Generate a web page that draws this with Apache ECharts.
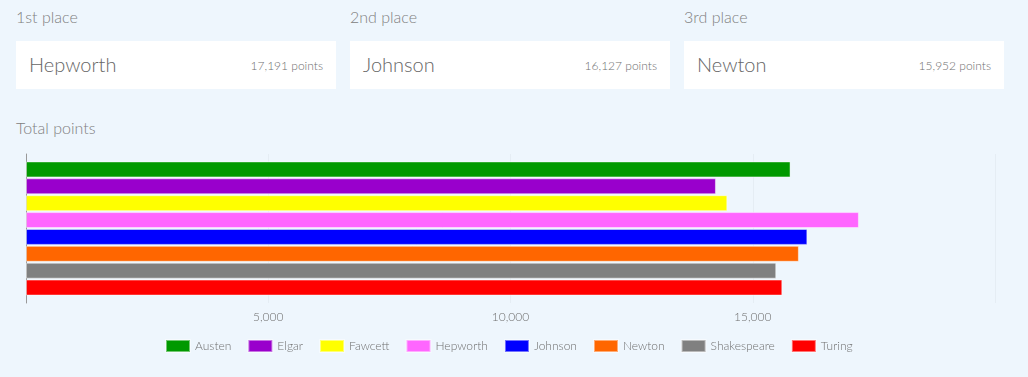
<!DOCTYPE html>
<html>
<head>
<meta charset="utf-8">
<script src="https://cdn.jsdelivr.net/npm/echarts@6/dist/echarts.min.js"></script>
<style>
	html,body{margin:0;padding:0;}
	body{width:1028px;height:377px;background:#eef6fd;font-family:Lato,"Open Sans",sans-serif;font-weight:300;color:#666;position:relative;overflow:hidden;}
	.place{position:absolute;top:7px;font-size:16px;color:#808080;}
	.card{position:absolute;top:41px;width:320px;height:48px;background:#fff;}
	.card .who{position:absolute;left:13px;top:11px;font-size:20px;color:#666;}
	.card .pts{position:absolute;right:13px;top:17px;font-size:12px;color:#707070;}
	.heading{position:absolute;left:16px;top:118px;font-size:16px;color:#808080;}
	#chart{position:absolute;left:0;top:140px;width:1028px;height:237px;}
</style>
</head>
<body>
<div id="podium"></div>
<div class="heading">Total points</div>
<div id="chart"></div>
<script>
//每个人的总分
var names=['Austen','Elgar','Fawcett','Hepworth','Johnson','Newton','Shakespeare','Turing'];
var points=[15780,14240,14475,17191,16127,15952,15485,15610];
var colors=['#009900','#9900cc','#ffff00','#ff66ff','#0000ff','#ff6600','#808080','#ff0000'];
var placeLabels=['1st place','2nd place','3rd place'];
var xTicks=[0,5000,10000,15000,20000];

//前三名卡片
var order=names.map(function(n,i){return i;}).sort(function(a,b){return points[b]-points[a];});
var podium=document.getElementById('podium');
for(var k=0;k<3;k++){
	var idx=order[k];
	var left=16+k*334;
	var lab=document.createElement('div');
	lab.className='place';
	lab.style.left=left+'px';
	lab.textContent=placeLabels[k];
	podium.appendChild(lab);
	var card=document.createElement('div');
	card.className='card';
	card.style.left=left+'px';
	card.innerHTML='<span class="who">'+names[idx]+'</span><span class="pts">'+points[idx].toLocaleString('en-US')+' points</span>';
	podium.appendChild(card);
}

//每一个条
var series=names.map(function(n,i){
	return {
		name:n,
		type:'bar',
		barGap:'6%',
		barCategoryGap:'10%',
		itemStyle:{color:colors[i],borderColor:'rgba(255,255,255,0.45)',borderWidth:1},
		data:[points[i]]
	};
});

var chart=echarts.init(document.getElementById('chart'));
chart.setOption({
	animation:false,
	textStyle:{fontFamily:'Lato'},
	grid:{left:26,right:33,top:14,height:149},
	legend:{
		left:160,
		bottom:19,
		itemWidth:24,
		itemHeight:12,
		itemGap:16,
		icon:'rect',
		textStyle:{color:'#707070',fontSize:12,fontFamily:'Lato',fontWeight:300},
		data:names
	},
	xAxis:{
		type:'value',
		min:xTicks[0],
		max:xTicks[xTicks.length-1],
		interval:xTicks[1]-xTicks[0],
		axisLine:{show:false},
		axisTick:{show:false},
		axisLabel:{showMinLabel:false,showMaxLabel:false,color:'#707070',fontSize:12,fontFamily:'Lato',fontWeight:300,margin:8},
		splitLine:{show:true,lineStyle:{color:'rgba(0,0,0,0.035)'}}
	},
	yAxis:{
		type:'category',
		inverse:true,
		data:[''],
		axisLine:{show:true,lineStyle:{color:'#999'}},
		axisTick:{show:false},
		axisLabel:{show:false}
	},
	series:series
});
</script>
</body>
</html>
